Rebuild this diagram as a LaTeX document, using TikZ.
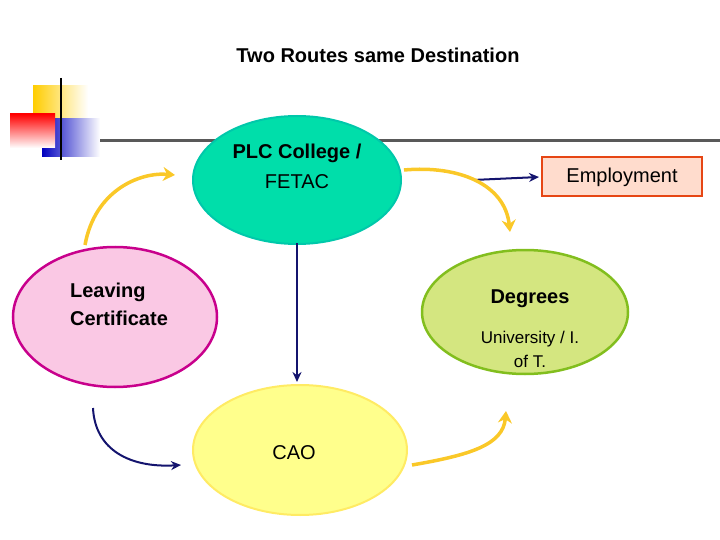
\documentclass[tikz,border=0pt]{standalone}
\usepackage{fontspec}
\setmainfont{Liberation Sans}
\usetikzlibrary{arrows.meta}
\begin{document}
\begin{tikzpicture}[x=1pt,y=-1pt,
 ya/.style={draw={rgb,255:red,250;green,200;blue,40},line width=3.5pt,-{Stealth[length=12pt,width=14pt]}},
 ba/.style={draw={rgb,255:red,20;green,20;blue,110},line width=2pt,-{Stealth[length=10pt,width=9pt]}},
 lbl/.style={font=\fontsize{20}{26}\selectfont,align=center}]
\useasboundingbox (0,0) rectangle (720,540);
\node[font=\bfseries\fontsize{20}{24}\selectfont] (t) at (378,55) {Two Routes same Destination};
% decoration
\fill[left color={rgb,255:red,255;green,205;blue,0},right color=white] (33,86) rectangle (88,123);
\fill[left color=blue!75!black,right color=white] (42,119) rectangle (100,157);
\fill[shading angle=-45,top color=red,bottom color=white,shading=axis] (10,114) rectangle (55,148);
\draw[line width=2pt] (61,78) -- (61,160);
\draw[line width=3pt,gray!70!black] (100,141) -- (720,141);
% ellipses
\draw[line width=2pt,draw={rgb,255:red,0;green,200;blue,170},fill={rgb,255:red,0;green,222;blue,170}] (297,180) ellipse (104 and 64);
\node[lbl,font=\bfseries\fontsize{20}{26}\selectfont] (plc) at (297,153) {PLC College /};
\node[lbl] (fetac) at (297,182) {FETAC};
\draw[line width=2.5pt,draw={rgb,255:red,200;green,0;blue,140},fill={rgb,255:red,250;green,200;blue,228}] (115,317) ellipse (102 and 70);
\node[lbl,align=left,font=\bfseries\fontsize{20}{28}\selectfont] (lc) at (119,304) {Leaving\\Certificate};
\draw[line width=2.5pt,draw={rgb,255:red,130;green,190;blue,30},fill={rgb,255:red,212;green,230;blue,128}] (525,312) ellipse (103 and 62);
\node[lbl,font=\bfseries\fontsize{20}{26}\selectfont] (deg) at (530,299) {Degrees};
\node[font=\fontsize{17}{24}\selectfont,align=center] (uni) at (530,349) {University / I.\\of T.};
\draw[line width=2pt,draw={rgb,255:red,255;green,235;blue,100},fill={rgb,255:red,255;green,255;blue,140}] (300,450) ellipse (107 and 65);
\node[lbl] (cao) at (294,453) {CAO};
\node[draw={rgb,255:red,230;green,70;blue,20},line width=2pt,fill={rgb,255:red,255;green,220;blue,205},minimum width=160pt,minimum height=39pt,lbl] (emp) at (622,177) {Employment};
% arrows
\coordinate (a1) at (85,245); \coordinate (a2) at (175,175);
\draw[ya] (a1) .. controls (95,190) and (140,172) .. (a2);
\coordinate (b1) at (297,243); \coordinate (b2) at (297,382);
\draw[ba] (b1) -- (b2);
\coordinate (c1) at (473,180);
\draw[ba] (c1) -- ([xshift=-2pt]emp.west);
\coordinate (d1) at (404,170); \coordinate (d2) at (510,232);
\draw[ya] (d1) .. controls (460,165) and (505,185) .. (d2);
\coordinate (e1) at (93,408); \coordinate (e2) at (181,465);
\draw[ba] (e1) .. controls (95,450) and (130,468) .. (e2);
\coordinate (f1) at (412,465); \coordinate (f2) at (506,411);
\draw[ya] (f1) .. controls (470,455) and (503,445) .. (f2);
\end{tikzpicture}
\end{document}
